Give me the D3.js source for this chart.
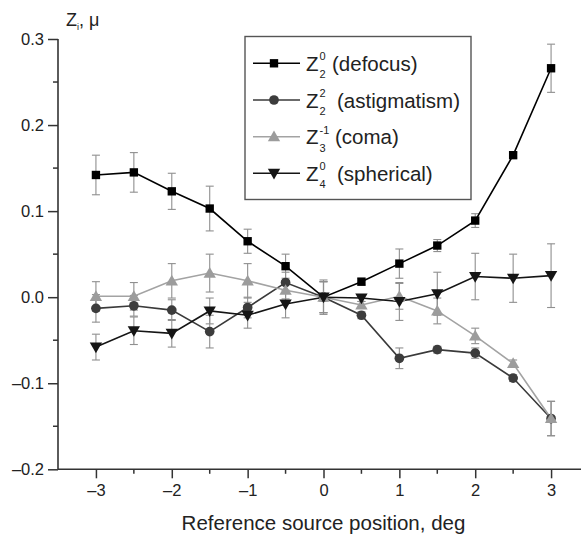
<!DOCTYPE html>
<html>
<head>
<meta charset="utf-8">
<script src="https://cdn.jsdelivr.net/npm/d3@7"></script>
<style>
  html, body { margin: 0; padding: 0; background: #fff; }
  svg { display: block; font-family: Arial, "Liberation Sans", sans-serif; }
</style>
</head>
<body>
<svg id="chart" width="581" height="538"></svg>
<script>
// ---- data ----
const positions = [-3, -2.5, -2, -1.5, -1, -0.5, 0, 0.5, 1, 1.5, 2, 2.5, 3];

const defocus      = [0.142, 0.145, 0.123, 0.103, 0.065, 0.036, 0.000, 0.018, 0.039, 0.060, 0.089, 0.165, 0.266];
const defocusErr   = [0.023, 0.023, 0.021, 0.026, 0.014, 0.014, 0.020, 0.004, 0.017, 0.007, 0.008, 0.003, 0.028];

const astig        = [-0.013, -0.010, -0.015, -0.040, -0.012, 0.017, 0.000, -0.021, -0.071, -0.061, -0.065, -0.094, -0.141];
const astigErr     = [0.016, 0.012, 0.012, 0.019, 0.012, 0.012, 0.018, 0.004, 0.012, 0.004, 0.006, 0.004, 0.020];

const coma         = [0.001, 0.001, 0.019, 0.028, 0.019, 0.008, 0.000, -0.009, 0.001, -0.016, -0.045, -0.077, -0.141];
const comaErr      = [0.017, 0.016, 0.020, 0.022, 0.020, 0.010, 0.018, 0.004, 0.015, 0.015, 0.009, 0.004, 0.020];

const spherical    = [-0.058, -0.039, -0.042, -0.016, -0.021, -0.008, 0.000, -0.001, -0.005, 0.004, 0.024, 0.022, 0.025];
const sphericalErr = [0.015, 0.016, 0.016, 0.015, 0.015, 0.016, 0.018, 0.004, 0.022, 0.025, 0.027, 0.028, 0.037];

const seriesNames   = ["defocus", "astigmatism", "coma", "spherical"];
const seriesSup     = ["0", "2", "-1", "0"];
const seriesSub     = ["2", "2", "3", "4"];
const seriesSymbols = ["square", "circle", "triangleUp", "triangleDown"];

const xTicks = [-3, -2, -1, 0, 1, 2, 3];
const xTickLabels = ["\u20133", "\u20132", "\u20131", "0", "1", "2", "3"];
const yTicks = [-0.2, -0.1, 0.0, 0.1, 0.2, 0.3];
const yTickLabels = ["\u20130.2", "\u20130.1", "0.0", "0.1", "0.2", "0.3"];
const xMinorTicks = [-2.5, -1.5, -0.5, 0.5, 1.5, 2.5];
const yMinorTicks = [-0.15, -0.05, 0.05, 0.15, 0.25];

const xTitle = "Reference source position, deg";

// ---- styles ----
const lineColors   = ["#000000", "#3a3a3a", "#a3a3a3", "#151515"];
const markerColors = ["#000000", "#3c3c3c", "#9c9c9c", "#151515"];
const errColor = "#8f8f8f";
const legendTextX = [332, 337, 335, 337];

const series = [
  { values: defocus, err: defocusErr },
  { values: astig, err: astigErr },
  { values: coma, err: comaErr },
  { values: spherical, err: sphericalErr }
].map((s, i) => ({ ...s, name: seriesNames[i], sup: seriesSup[i], sub: seriesSub[i], symbol: seriesSymbols[i], line: lineColors[i], fill: markerColors[i] }));

const svg = d3.select("#chart");
const x = d3.scaleLinear().domain([-3.5, 3.5]).range([58, 589]);
const y = d3.scaleLinear().domain([-0.2, 0.3]).range([469.3, 39]);

const axisColor = "#333";

// x axis
const gx = svg.append("g").attr("transform", `translate(0,${y(-0.2)})`)
  .call(d3.axisBottom(x).tickValues(xTicks).tickSize(9).tickPadding(6)
        .tickFormat((d, i) => xTickLabels[i]));
gx.select(".domain").attr("stroke", axisColor).attr("stroke-width", 1.6).attr("d", `M${x(-3.5)},0H${x(3.5)}`);
gx.selectAll(".tick line").attr("stroke", axisColor).attr("stroke-width", 1.5);
gx.selectAll(".tick text").attr("font-size", 16.5).attr("fill", "#222").attr("font-family", "Arial, 'Liberation Sans', sans-serif");
gx.selectAll(".minor").data(xMinorTicks).enter().append("line")
  .attr("x1", d => x(d)).attr("x2", d => x(d)).attr("y1", 0).attr("y2", 4.5)
  .attr("stroke", axisColor).attr("stroke-width", 1.5);

// y axis
const gy = svg.append("g").attr("transform", `translate(${x(-3.5)},0)`)
  .call(d3.axisLeft(y).tickValues(yTicks).tickSize(10).tickPadding(4)
        .tickFormat((d, i) => yTickLabels[i]));
gy.select(".domain").attr("stroke", axisColor).attr("stroke-width", 1.6).attr("d", `M0,${y(0.3)}V${y(-0.2)}`);
gy.selectAll(".tick line").attr("stroke", axisColor).attr("stroke-width", 1.5);
gy.selectAll(".tick text").attr("font-size", 16.5).attr("fill", "#222").attr("font-family", "Arial, 'Liberation Sans', sans-serif");
gy.selectAll(".minor").data(yMinorTicks).enter().append("line")
  .attr("x1", -5).attr("x2", 0).attr("y1", d => y(d)).attr("y2", d => y(d))
  .attr("stroke", axisColor).attr("stroke-width", 1.5);

// axis titles
svg.append("text").attr("x", x(0)).attr("y", 530).attr("text-anchor", "middle")
  .attr("font-size", 20.5).attr("fill", "#222").text(xTitle);

const yl = svg.append("text").attr("x", 66).attr("y", 26).attr("font-size", 18).attr("fill", "#222");
yl.append("tspan").text("Z");
yl.append("tspan").attr("font-size", 9).attr("dy", 4).text("i");
yl.append("tspan").attr("dy", -4).text(", \u03bc");

// symbol generator
function symbolPath(kind) {
  const size = { square: 70, circle: 74, triangleUp: 66, triangleDown: 66 }[kind];
  const type = { square: d3.symbolSquare, circle: d3.symbolCircle, triangleUp: d3.symbolTriangle, triangleDown: d3.symbolTriangle }[kind];
  return d3.symbol().type(type).size(size)();
}
function symbolTransform(kind, cx, cy) {
  let t = `translate(${cx},${cy})`;
  if (kind === "triangleUp") t += " translate(0,1)";
  if (kind === "triangleDown") t += " translate(0,-1) rotate(180)";
  return t;
}

const plot = svg.append("g");

// error bars
series.forEach(s => {
  const g = plot.append("g").attr("stroke", errColor).attr("stroke-width", 1.1).attr("fill", "none");
  positions.forEach((p, i) => {
    const cx = x(p), top = y(s.values[i] + s.err[i]), bot = y(s.values[i] - s.err[i]);
    g.append("line").attr("x1", cx).attr("x2", cx).attr("y1", top).attr("y2", bot);
    g.append("line").attr("x1", cx - 4).attr("x2", cx + 4).attr("y1", top).attr("y2", top);
    g.append("line").attr("x1", cx - 4).attr("x2", cx + 4).attr("y1", bot).attr("y2", bot);
  });
});

// lines
const lineGen = d3.line().x((d, i) => x(positions[i])).y(d => y(d));
series.forEach(s => {
  plot.append("path").datum(s.values).attr("d", lineGen)
    .attr("fill", "none").attr("stroke", s.line).attr("stroke-width", 1.6);
});

// markers
series.forEach(s => {
  plot.append("g").selectAll("path").data(s.values).enter().append("path")
    .attr("d", symbolPath(s.symbol))
    .attr("fill", s.fill)
    .attr("transform", (d, i) => symbolTransform(s.symbol, x(positions[i]), y(d)));
});

// legend
const lg = svg.append("g");
lg.append("rect").attr("x", 245).attr("y", 36.5).attr("width", 226).attr("height", 163)
  .attr("fill", "#fff").attr("stroke", "#555").attr("stroke-width", 1.4);
const rowY = [63.3, 100, 136.7, 173.3];
series.forEach((s, i) => {
  const ry = rowY[i];
  lg.append("line").attr("x1", 253).attr("x2", 300).attr("y1", ry).attr("y2", ry)
    .attr("stroke", s.line).attr("stroke-width", 1.6);
  lg.append("path").attr("d", symbolPath(s.symbol)).attr("fill", s.fill)
    .attr("transform", symbolTransform(s.symbol, 274, ry));
  lg.append("text").attr("x", 306).attr("y", ry + 7.5).attr("font-size", 20.5).attr("fill", "#222").text("Z");
  lg.append("text").attr("x", 319.5).attr("y", ry - 3).attr("font-size", 11).attr("fill", "#222").text(s.sup);
  lg.append("text").attr("x", 319.5).attr("y", ry + 15).attr("font-size", 11).attr("fill", "#222").text(s.sub);
  lg.append("text").attr("x", legendTextX[i]).attr("y", ry + 7.5).attr("font-size", 20.5).attr("fill", "#222").text("(" + s.name + ")");
});
</script>
</body>
</html>
